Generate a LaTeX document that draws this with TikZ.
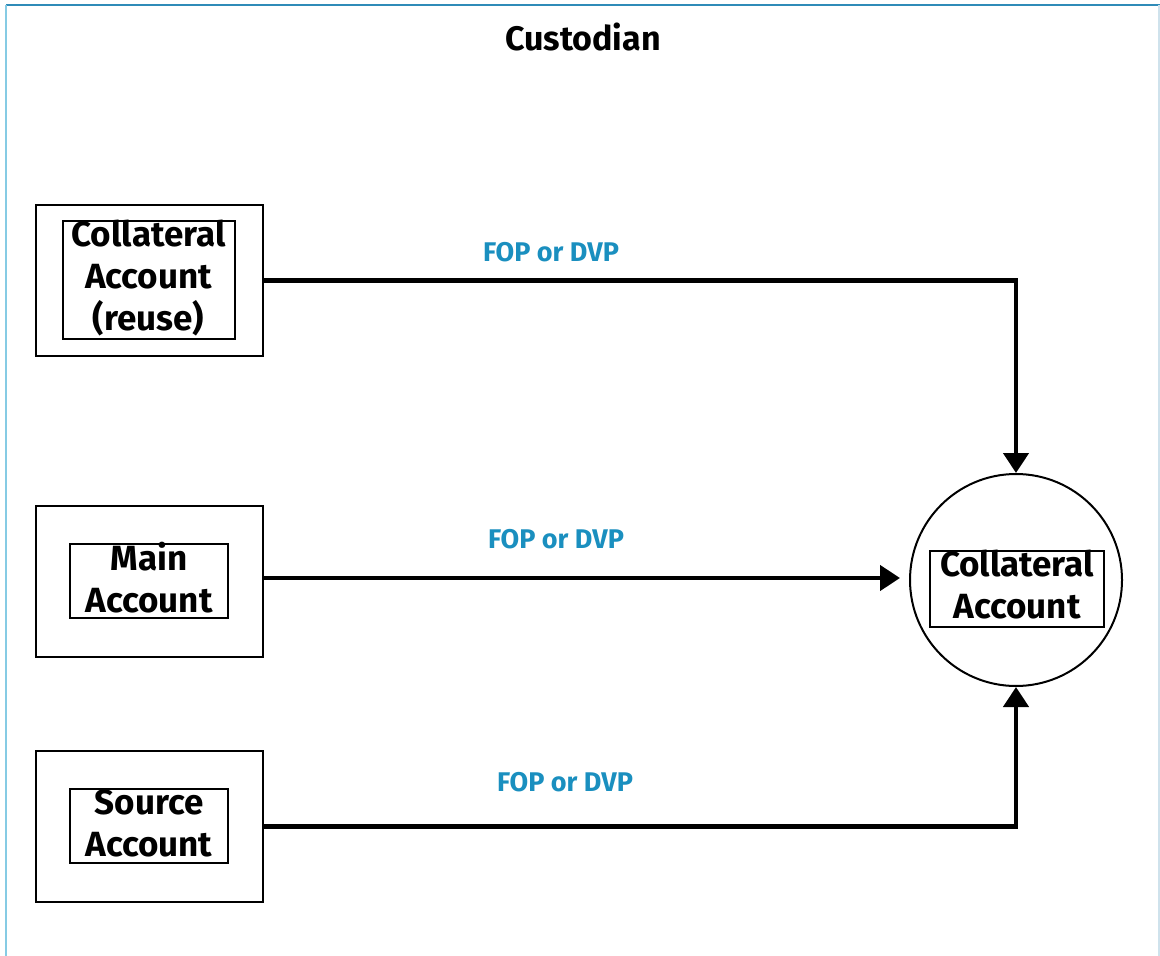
\documentclass[tikz,border=0pt]{standalone}
\usepackage{fontspec}
\setmainfont{Fira Sans}
\usetikzlibrary{calc}
\usetikzlibrary{arrows.meta}
\usetikzlibrary{positioning}
\definecolor{flowblue}{HTML}{1A8FBF}
\definecolor{edgeblue}{HTML}{2F8BB8}
\definecolor{sideblue}{HTML}{86CBE4}
\definecolor{paleblue}{HTML}{CFE2EC}
\tikzset{
    outerbox/.style={draw, line width=1.2pt, minimum width=113.5pt, minimum height=75.5pt, inner sep=0pt},
    innerbox/.style={draw, line width=1pt, inner sep=0pt},
    acctext/.style={align=center, inner sep=0pt, font=\fontsize{17.5}{21}\selectfont\bfseries},
    flowlabel/.style={text=flowblue, inner sep=0pt, font=\fontsize{13.5}{15}\selectfont\bfseries},
    flow/.style={line width=2.2pt, -{Triangle[length=10pt,width=12.5pt]}}
}
\begin{document}
\begin{tikzpicture}[x=0.5pt, y=-0.5pt]
    \useasboundingbox (0,0) rectangle (1160,956);
    % Frame around the custodian
    \draw[edgeblue, line width=1pt] (6,5) -- (1160,5);
    \draw[sideblue, line width=1pt] (6,5) -- (6,956);
    \draw[paleblue, line width=0.6pt] (1159,5) -- (1159,956);
    \node[font=\fontsize{17}{19}\selectfont\bfseries] (title) at (583,37) {Custodian};

    % Left column: the three source accounts
    \node[outerbox] (reuse) at (149.5,280.5) {};
    \node[innerbox, minimum width=86pt, minimum height=59pt] (reuse-in) at (148.5,280.5) {};
    \node[acctext] (reuse-txt) at ($(reuse-in.center)+(0,-2)$) {Collateral\\Account\\(reuse)};

    \node[outerbox] (main) at (149.5,581.5) {};
    \node[innerbox, minimum width=79pt, minimum height=37pt] (main-in) at (149,581) {};
    \node[acctext] (main-txt) at ($(main-in.center)+(0,-3)$) {Main\\Account};

    \node[outerbox] (source) at (149.5,826.5) {};
    \node[innerbox, minimum width=79pt, minimum height=37pt] (source-in) at (149,826) {};
    \node[acctext] (source-txt) at ($(source-in.center)+(0,-3)$) {Source\\Account};

    % Right: collateral account in the circle
    \node[draw, circle, line width=1pt, minimum size=106pt, inner sep=0pt] (target) at (1016,580) {};
    \node[innerbox, minimum width=87pt, minimum height=38pt] (target-in) at (1017,589) {};
    \node[acctext] (target-txt) at (1017,585) {Collateral\\Account};

    % Flows into the collateral account
    \draw[flow] (reuse.east) -| (target.north);
    \coordinate (m0) at (main.east |- 0,578);
    \draw[flow, shorten >=4.5pt] (m0) -- (target.west |- m0);
    \draw[flow] (source.east) -| (target.south);
    \node[flowlabel] (lab1) at (551,252) {FOP or DVP};
    \node[flowlabel] (lab2) at (556,539) {FOP or DVP};
    \node[flowlabel] (lab3) at (565,782) {FOP or DVP};
\end{tikzpicture}
\end{document}
